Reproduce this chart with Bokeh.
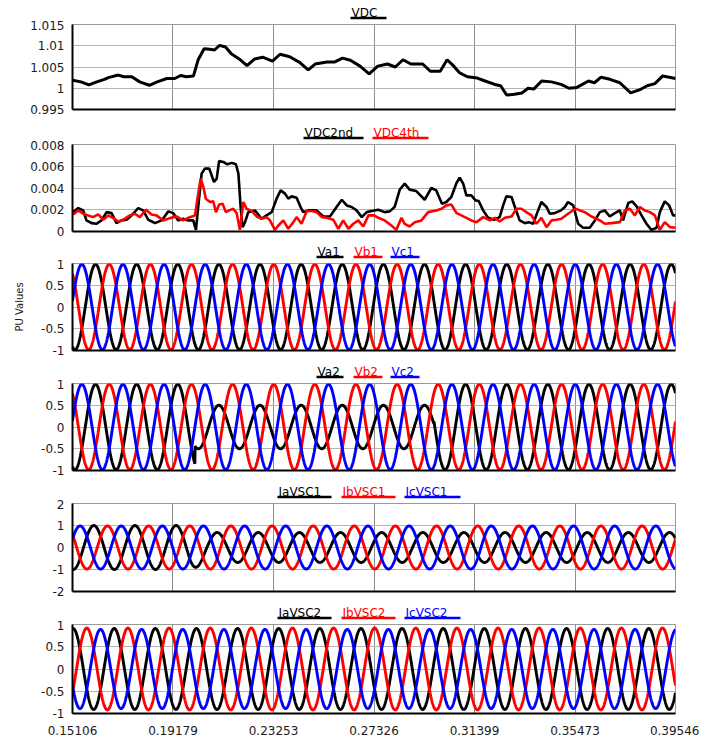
import numpy as np
from bokeh.plotting import figure
from bokeh.layouts import column
from bokeh.models import Range1d, FixedTicker, CustomJSTickFormatter
from bokeh.embed import file_html
from bokeh.resources import INLINE
from bokeh.core.properties import value

# ---------------- data ----------------
X_TICKS = [0.15106, 0.19179, 0.23253, 0.27326, 0.31399, 0.35473, 0.39546]

VDC_T = [0.1511, 0.1545, 0.1577, 0.1609, 0.1640, 0.1656, 0.1696, 0.1719, 0.1751, 0.1783,
         0.1822, 0.1854, 0.1893, 0.1925, 0.1949, 0.1972, 0.2001, 0.2020, 0.2044, 0.2067,
         0.2086, 0.2107, 0.2131, 0.2154, 0.2186, 0.2218, 0.2249, 0.2281, 0.2321, 0.2352,
         0.2391, 0.2431, 0.2466, 0.2494, 0.2542, 0.2574, 0.2605, 0.2637, 0.2676, 0.2713,
         0.2748, 0.2787, 0.2819, 0.2850, 0.2882, 0.2930, 0.2961, 0.3001, 0.3029, 0.3056,
         0.3080, 0.3111, 0.3151, 0.3183, 0.3222, 0.3246, 0.3270, 0.3301, 0.3333, 0.3357,
         0.3380, 0.3412, 0.3452, 0.3491, 0.3523, 0.3555, 0.3602, 0.3626, 0.3653, 0.3689,
         0.3729, 0.3773, 0.3808, 0.3840, 0.3871, 0.3903, 0.3955]
VDC_V = [1.0019, 1.0015, 1.0008, 1.0015, 1.0021, 1.0025, 1.0031, 1.0027, 1.0027, 1.0015,
         1.0007, 1.0015, 1.0023, 1.0023, 1.0030, 1.0027, 1.0029, 1.0067, 1.0093, 1.0092,
         1.0090, 1.0101, 1.0097, 1.0081, 1.0069, 1.0053, 1.0069, 1.0073, 1.0064, 1.0080,
         1.0074, 1.0061, 1.0043, 1.0057, 1.0062, 1.0062, 1.0071, 1.0066, 1.0052, 1.0034,
         1.0052, 1.0057, 1.0050, 1.0067, 1.0057, 1.0057, 1.0040, 1.0040, 1.0067, 1.0052,
         1.0036, 1.0027, 1.0024, 1.0017, 1.0009, 1.0006, 0.9984, 0.9986, 0.9989, 1.0000,
         0.9998, 1.0017, 1.0015, 1.0009, 1.0000, 1.0002, 1.0017, 1.0013, 1.0026, 1.0021,
         1.0013, 0.9989, 0.9996, 1.0006, 1.0011, 1.0029, 1.0023]

VDC2ND_PTS = [
    (0.1513, 0.00178), (0.1534, 0.00215), (0.1554, 0.00194), (0.1567, 0.00102), (0.1588, 0.00077),
    (0.1608, 0.00071), (0.1628, 0.00102), (0.1649, 0.00178), (0.1669, 0.00169), (0.1689, 0.00077),
    (0.1709, 0.00102), (0.1730, 0.00108), (0.1750, 0.00148), (0.1777, 0.00215), (0.1797, 0.00194),
    (0.1818, 0.00108), (0.1845, 0.00077), (0.1872, 0.00102), (0.1899, 0.00185), (0.1919, 0.00169),
    (0.1939, 0.00102), (0.1959, 0.00117), (0.1980, 0.00102), (0.2000, 0.00102), (0.2011, 0.00015),
    (0.2020, 0.00225), (0.2034, 0.00532), (0.2047, 0.00578), (0.2065, 0.00578), (0.2084, 0.00455),
    (0.2095, 0.00486), (0.2105, 0.00649), (0.2122, 0.00640), (0.2138, 0.00618), (0.2156, 0.00631),
    (0.2173, 0.00618), (0.2183, 0.00532), (0.2192, 0.00225), (0.2200, 0.00040), (0.2210, 0.00086),
    (0.2223, 0.00178), (0.2250, 0.00194), (0.2277, 0.00117), (0.2297, 0.00148), (0.2318, 0.00178),
    (0.2338, 0.00302), (0.2354, 0.00378), (0.2372, 0.00348), (0.2385, 0.00302), (0.2399, 0.00323),
    (0.2419, 0.00311), (0.2435, 0.00225), (0.2446, 0.00178), (0.2466, 0.00194), (0.2500, 0.00194),
    (0.2527, 0.00138), (0.2554, 0.00138), (0.2581, 0.00225), (0.2602, 0.00292), (0.2622, 0.00240),
    (0.2642, 0.00225), (0.2662, 0.00194), (0.2683, 0.00132), (0.2703, 0.00178), (0.2723, 0.00188),
    (0.2750, 0.00200), (0.2776, 0.00178), (0.2796, 0.00185), (0.2816, 0.00225), (0.2837, 0.00385),
    (0.2857, 0.00440), (0.2877, 0.00385), (0.2904, 0.00372), (0.2938, 0.00292), (0.2965, 0.00400),
    (0.2985, 0.00378), (0.3008, 0.00255), (0.3026, 0.00271), (0.3046, 0.00317), (0.3067, 0.00446),
    (0.3080, 0.00495), (0.3094, 0.00440), (0.3107, 0.00332), (0.3127, 0.00332), (0.3144, 0.00286),
    (0.3157, 0.00280), (0.3175, 0.00194), (0.3195, 0.00126), (0.3219, 0.00108), (0.3242, 0.00132),
    (0.3256, 0.00240), (0.3269, 0.00323), (0.3290, 0.00317), (0.3306, 0.00209), (0.3323, 0.00102),
    (0.3344, 0.00077), (0.3360, 0.00086), (0.3378, 0.00071), (0.3395, 0.00178), (0.3411, 0.00271),
    (0.3432, 0.00225), (0.3445, 0.00163), (0.3465, 0.00169), (0.3490, 0.00194), (0.3506, 0.00225),
    (0.3519, 0.00271), (0.3540, 0.00240), (0.3560, 0.00071), (0.3580, 0.00034), (0.3607, 0.00034),
    (0.3628, 0.00102), (0.3648, 0.00178), (0.3668, 0.00194), (0.3688, 0.00138), (0.3709, 0.00169),
    (0.3729, 0.00194), (0.3742, 0.00102), (0.3763, 0.00262), (0.3779, 0.00277), (0.3797, 0.00231),
    (0.3817, 0.00148), (0.3837, 0.00071), (0.3857, 0.00015), (0.3878, 0.00034), (0.3891, 0.00178),
    (0.3911, 0.00277), (0.3929, 0.00240), (0.3945, 0.00148), (0.3955, 0.00148)]

VDC4TH_PTS = [
    (0.1513, 0.00157), (0.1534, 0.00194), (0.1554, 0.00163), (0.1574, 0.00148), (0.1594, 0.00132),
    (0.1615, 0.00157), (0.1635, 0.00108), (0.1655, 0.00148), (0.1676, 0.00123), (0.1696, 0.00092),
    (0.1716, 0.00108), (0.1743, 0.00148), (0.1763, 0.00163), (0.1784, 0.00132), (0.1808, 0.00200),
    (0.1831, 0.00157), (0.1851, 0.00148), (0.1878, 0.00102), (0.1905, 0.00123), (0.1932, 0.00138),
    (0.1959, 0.00102), (0.1986, 0.00132), (0.2007, 0.00148), (0.2016, 0.00286), (0.2030, 0.00486),
    (0.2041, 0.00409), (0.2051, 0.00302), (0.2068, 0.00271), (0.2081, 0.00277), (0.2092, 0.00178),
    (0.2105, 0.00249), (0.2119, 0.00255), (0.2132, 0.00178), (0.2146, 0.00194), (0.2162, 0.00209),
    (0.2176, 0.00169), (0.2189, 0.00015), (0.2203, 0.00271), (0.2216, 0.00209), (0.2237, 0.00188),
    (0.2257, 0.00138), (0.2277, 0.00117), (0.2297, 0.00132), (0.2311, 0.00102), (0.2331, 0.00015),
    (0.2345, 0.00055), (0.2365, 0.00102), (0.2385, 0.00025), (0.2406, 0.00086), (0.2419, 0.00132),
    (0.2439, 0.00071), (0.2460, 0.00188), (0.2480, 0.00188), (0.2500, 0.00178), (0.2521, 0.00132),
    (0.2541, 0.00126), (0.2568, 0.00108), (0.2588, 0.00025), (0.2608, 0.00102), (0.2629, 0.00025),
    (0.2649, 0.00071), (0.2669, 0.00102), (0.2689, 0.00046), (0.2710, 0.00148), (0.2733, 0.00148),
    (0.2750, 0.00126), (0.2776, 0.00102), (0.2803, 0.00055), (0.2823, 0.00015), (0.2844, 0.00126),
    (0.2857, 0.00071), (0.2877, 0.00046), (0.2898, 0.00086), (0.2925, 0.00102), (0.2952, 0.00178),
    (0.2985, 0.00194), (0.3006, 0.00209), (0.3026, 0.00240), (0.3046, 0.00249), (0.3067, 0.00169),
    (0.3087, 0.00148), (0.3107, 0.00126), (0.3127, 0.00102), (0.3148, 0.00086), (0.3175, 0.00132),
    (0.3202, 0.00102), (0.3222, 0.00126), (0.3242, 0.00092), (0.3263, 0.00126), (0.3290, 0.00138),
    (0.3310, 0.00209), (0.3330, 0.00209), (0.3350, 0.00178), (0.3371, 0.00148), (0.3391, 0.00071),
    (0.3411, 0.00126), (0.3432, 0.00040), (0.3452, 0.00102), (0.3472, 0.00108), (0.3492, 0.00117),
    (0.3519, 0.00163), (0.3549, 0.00209), (0.3567, 0.00194), (0.3587, 0.00178), (0.3614, 0.00138),
    (0.3648, 0.00102), (0.3668, 0.00071), (0.3695, 0.00077), (0.3729, 0.00086), (0.3749, 0.00194),
    (0.3770, 0.00209), (0.3790, 0.00148), (0.3810, 0.00225), (0.3830, 0.00194), (0.3851, 0.00178),
    (0.3871, 0.00148), (0.3891, 0.00015), (0.3911, 0.00086), (0.3932, 0.00040), (0.3955, 0.00034)]

# three-phase waveforms (60 Hz): time of phase-A peak and amplitude envelopes
F_HZ = 60.0
PHASE_SHIFT = [0.0, -2.0 * np.pi / 3.0, 2.0 * np.pi / 3.0]   # a, b (lags 120 deg), c

VA1_PEAK = 0.1604
VA1_ENV_T = [[0.15106, 0.39546]] * 3
VA1_ENV_A = [[0.98, 0.98]] * 3

VA2_PEAK = 0.1604
VA2_ENV_T = [[0.15106, 0.2007, 0.20071, 0.2975, 0.29751, 0.39546],
             [0.15106, 0.39546], [0.15106, 0.39546]]
VA2_ENV_A = [[0.98, 0.98, 0.5, 0.5, 0.98, 0.98], [0.98, 0.98], [0.98, 0.98]]

IA1_PEAK = 0.1597
IA1_ENV_T = [[0.15106, 0.1990, 0.2060, 0.39546], [0.15106, 0.39546], [0.15106, 0.39546]]
IA1_ENV_A = [[1.0, 1.0, 0.68, 0.68], [0.98, 0.98], [0.98, 0.98]]

IA2_PEAK = 0.1513
IA2_ENV_T = [[0.15106, 0.39546]] * 3
IA2_ENV_A = [[0.91, 0.91], [0.92, 0.92], [0.89, 0.89]]

PHASE_COLORS = ["black", "red", "blue"]

# ---------------- styling helpers ----------------
FONT = "DejaVu Sans"
T0, T1 = X_TICKS[0], X_TICKS[-1]
FW = 603
BL, BR = 72, 24


def main_fig(frame_h, top, bottom, y0, y1, yticks, show_x=False):
    p = figure(frame_width=FW, frame_height=frame_h,
               x_range=Range1d(T0, T1), y_range=Range1d(y0, y1),
               output_backend="svg", toolbar_location=None,
               min_border_left=BL, min_border_right=BR,
               min_border_top=top, min_border_bottom=bottom)
    p.outline_line_color = "#9a9a9a"
    p.outline_line_width = 1
    p.xaxis.ticker = FixedTicker(ticks=X_TICKS if show_x else [])
    p.xgrid.ticker = FixedTicker(ticks=X_TICKS)
    p.yaxis.ticker = FixedTicker(ticks=yticks)
    fmt = "return tick.toString();"
    p.xaxis.formatter = CustomJSTickFormatter(code=fmt)
    p.yaxis.formatter = CustomJSTickFormatter(code=fmt)
    for ax in (p.xaxis[0], p.yaxis[0]):
        ax.major_tick_out = 0
        ax.major_tick_in = 0
        ax.minor_tick_out = 0
        ax.minor_tick_in = 0
        ax.axis_line_color = "black"
        ax.axis_line_width = 2
        ax.major_label_text_font = FONT
        ax.major_label_text_font_size = "12px"
        ax.major_label_text_color = "#1a1a1a"
    p.yaxis.major_label_standoff = 8
    p.xaxis.major_label_standoff = 12 if show_x else 0
    p.xgrid.grid_line_color = "#8e8e8e"
    p.ygrid.grid_line_color = "#b4b4b4"
    p.xgrid.grid_line_width = 1
    p.ygrid.grid_line_width = 1
    return p


def title_strip(h, entries, base_y, ul_y):
    s = figure(frame_width=FW, frame_height=h, x_range=Range1d(0, FW), y_range=Range1d(0, h),
               output_backend="svg", toolbar_location=None,
               min_border=0, min_border_left=BL, min_border_right=BR,
               min_border_top=0, min_border_bottom=0)
    s.axis.visible = False
    s.grid.visible = False
    s.outline_line_color = None
    for name, color, x0, x1 in entries:
        s.segment(x0=[x0], y0=[ul_y], x1=[x1], y1=[ul_y], line_color=color, line_width=2.5)
        s.text(x=[x0 + 1], y=[base_y], text=[name], text_color=color,
               text_font=value(FONT), text_font_size="12px",
               text_baseline="alphabetic", text_align="left")
    return s


def three_phase(p, peak, env_t, env_a):
    t = np.arange(T0, T1 + 1e-5, 0.0001)
    w = 2.0 * np.pi * F_HZ
    for k in range(3):
        amp = np.interp(t, env_t[k], env_a[k])
        y = amp * np.cos(w * (t - peak) + PHASE_SHIFT[k])
        p.line(t, y, line_color=PHASE_COLORS[k], line_width=2.9)


# ---------------- panels ----------------
TB, TU = 8.0, 2.5
s1 = title_strip(20, [("VDC", "black", 278, 314)], TB, TU)
p1 = main_fig(85, 4, 13, 0.995, 1.015, [0.995, 1.0, 1.005, 1.01, 1.015])
p1.line(VDC_T, VDC_V, line_color="black", line_width=3)

s2 = title_strip(18, [("VDC2nd", "black", 231, 291), ("VDC4th", "red", 300, 356)], TB, TU)
p2 = main_fig(87, 4, 10, 0.0, 0.008, [0, 0.002, 0.004, 0.006, 0.008])
p2.line([a for a, b in VDC2ND_PTS], [b for a, b in VDC2ND_PTS], line_color="black", line_width=2.6)
p2.line([a for a, b in VDC4TH_PTS], [b for a, b in VDC4TH_PTS], line_color="red", line_width=2.6)

s3 = title_strip(18, [("Va1", "black", 244, 271), ("Vb1", "red", 281, 310), ("Vc1", "blue", 318, 347)], TB, TU)
p3 = main_fig(87, 4, 11, -1.0, 1.0, [-1, -0.5, 0, 0.5, 1])
p3.yaxis.axis_label = "PU Values"
p3.yaxis.axis_label_text_font = FONT
p3.yaxis.axis_label_text_font_size = "10px"
p3.yaxis.axis_label_text_font_style = "normal"
p3.yaxis.axis_label_text_color = "#1a1a1a"
p3.yaxis.axis_label_standoff = 13
three_phase(p3, VA1_PEAK, VA1_ENV_T, VA1_ENV_A)

s4 = title_strip(18, [("Va2", "black", 244, 271), ("Vb2", "red", 281, 310), ("Vc2", "blue", 318, 347)], TB, TU)
p4 = main_fig(87, 4, 11, -1.0, 1.0, [-1, -0.5, 0, 0.5, 1])
three_phase(p4, VA2_PEAK, VA2_ENV_T, VA2_ENV_A)

s5 = title_strip(18, [("IaVSC1", "black", 205, 259), ("IbVSC1", "red", 269, 323), ("IcVSC1", "blue", 332, 388)], TB, TU)
p5 = main_fig(88, 4, 11, -2.0, 2.0, [-2, -1, 0, 1, 2])
three_phase(p5, IA1_PEAK, IA1_ENV_T, IA1_ENV_A)

s6 = title_strip(18, [("IaVSC2", "black", 205, 259), ("IbVSC2", "red", 269, 323), ("IcVSC2", "blue", 332, 388)], TB, TU)
p6 = main_fig(89, 4, 27, -1.0, 1.0, [-1, -0.5, 0, 0.5, 1], show_x=True)
three_phase(p6, IA2_PEAK, IA2_ENV_T, IA2_ENV_A)

layout = column(s1, p1, s2, p2, s3, p3, s4, p4, s5, p5, s6, p6, spacing=0)

open("out.html", "w").write(file_html(layout, INLINE))
